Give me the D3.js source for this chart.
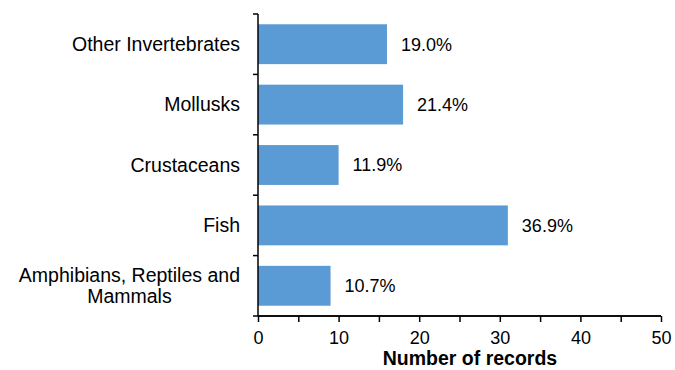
<!DOCTYPE html>
<html>
<head>
<meta charset="utf-8">
<script src="https://cdn.jsdelivr.net/npm/d3@7"></script>
<style>
  body { margin: 0; background: #fff; }
  text { font-family: "Liberation Sans", Arial, sans-serif; fill: #000; }
</style>
</head>
<body>
<div id="chart"></div>
<script>
// chart data
const categories = ["Other Invertebrates", "Mollusks", "Crustaceans", "Fish", "Amphibians, Reptiles and\nMammals"];
const records = [16, 18, 10, 31, 9];
const percentLabels = ["19.0%", "21.4%", "11.9%", "36.9%", "10.7%"];
const xTicks = [0, 10, 20, 30, 40, 50];
const xMinorTicks = [5, 15, 25, 35, 45];

const width = 675, height = 370;
const margin = {top: 14, right: 14, bottom: 54, left: 258};
const w = width - margin.left - margin.right, h = height - margin.top - margin.bottom;

let svg = d3.select("#chart").append("svg")
    .attr("width", width)
    .attr("height", height)
    .append("g")
    .attr("transform", `translate(${margin.left}, ${margin.top})`);

let x = d3.scaleLinear().domain([0, 50]).range([0, 403]);
let y = d3.scaleBand().domain(categories).range([0, h]).paddingInner(0.34).paddingOuter(0.17);

// bars
svg.selectAll("rect").data(categories).enter()
    .append("rect")
    .attr("x", x(0))
    .attr("y", d => y(d))
    .attr("width", (d, i) => x(records[i]) - x(0))
    .attr("height", y.bandwidth())
    .attr("fill", "#5b9bd5");

// value labels
svg.selectAll(".val").data(categories).enter()
    .append("text")
    .attr("class", "val")
    .attr("x", (d, i) => x(records[i]) + 14)
    .attr("y", d => y(d) + y.bandwidth() / 2)
    .attr("dy", "0.35em")
    .style("font-size", "18px")
    .text((d, i) => percentLabels[i]);

// y axis (ticks at band boundaries)
let yAxis = svg.append("g");
yAxis.append("line").attr("x1", 0).attr("x2", 0).attr("y1", 0).attr("y2", h)
    .attr("stroke", "#000").attr("stroke-width", 1.5);
yAxis.selectAll(".ytick").data(d3.range(categories.length + 1)).enter()
    .append("line")
    .attr("x1", -5).attr("x2", 0)
    .attr("y1", i => i * h / categories.length)
    .attr("y2", i => i * h / categories.length)
    .attr("stroke", "#000").attr("stroke-width", 1.5);

// category labels
categories.forEach(function(c, i) {
  let lines = c.split("\n");
  let cy = y(c) + y.bandwidth() / 2;
  let lh = 21;
  let t = svg.append("text")
      .style("font-size", "19.5px")
      .attr("text-anchor", "end");
  lines.forEach(function(l, j) {
    t.append("tspan").attr("x", -18)
      .attr("y", cy + (j - (lines.length - 1) / 2) * lh)
      .attr("dy", "0.35em")
      .text(l);
  });
  if (lines.length > 1) {
    let maxW = d3.max(t.selectAll("tspan").nodes(), n => n.getComputedTextLength());
    t.attr("text-anchor", "middle");
    t.selectAll("tspan").attr("x", -18 - maxW / 2);
  }
});

// x axis
let xAxis = svg.append("g").attr("transform", `translate(0, ${h})`);
xAxis.call(d3.axisBottom(x).tickValues(xTicks).tickSize(6).tickPadding(9));
xAxis.append("g").call(d3.axisBottom(x).tickValues(xMinorTicks).tickSize(6).tickFormat(""));
xAxis.selectAll(".domain").attr("stroke-width", 1.5).attr("d", `M0,0H${x(50)}`);
xAxis.selectAll(".tick line").attr("stroke-width", 1.5);
xAxis.selectAll("text").style("font-size", "18px").style("font-family", "Liberation Sans, Arial, sans-serif");

// x axis title
svg.append("text")
    .attr("x", 212)
    .attr("y", h + 49)
    .attr("text-anchor", "middle")
    .style("font-size", "19.5px")
    .style("font-weight", "bold")
    .text("Number of records");
</script>
</body>
</html>
